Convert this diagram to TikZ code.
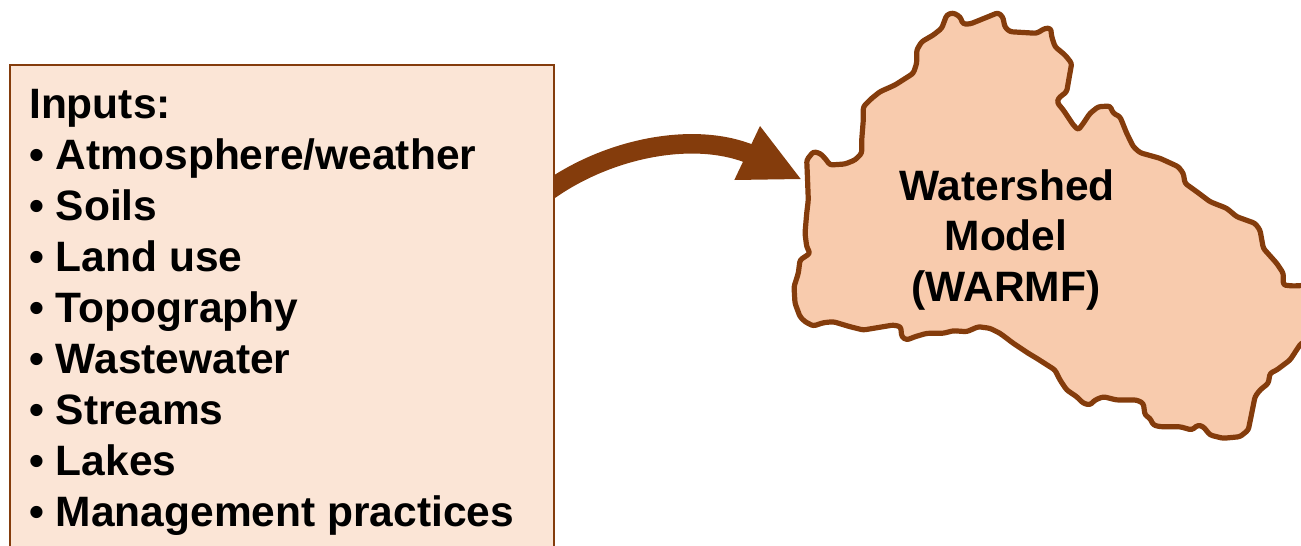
\documentclass[tikz,border=0pt]{standalone}
\usepackage{fontspec}
\setmainfont{Liberation Sans}
\definecolor{brn}{HTML}{843C0C}
\definecolor{boxfill}{HTML}{FBE5D6}
\definecolor{shedfill}{HTML}{F8CBAD}
\begin{document}
\begin{tikzpicture}[x=1pt,y=-1pt,
  inputtext/.style={anchor=base west, inner sep=0pt, font=\fontsize{42.5}{50}\selectfont\bfseries},
  wstext/.style={anchor=base, inner sep=0pt, font=\fontsize{42.5}{50}\selectfont\bfseries},
  inbox/.style={draw=brn, fill=boxfill, line width=1.5pt, inner sep=0pt},
  shed/.style={draw=brn, fill=shedfill, line width=5.2pt, line join=round, rounded corners=2.5pt},
  bodyline/.style={draw=brn, line width=19.5pt},
  headfill/.style={fill=brn}]
\useasboundingbox (0,0) rectangle (1301,546);
\clip (0,0) rectangle (1301,546);
% arrow body
\coordinate (astart) at (540,197);
\coordinate (aend) at (750,154);
\draw[bodyline] (astart) .. controls (600,150) and (690,130) .. (aend);
% input box
\node[inbox, minimum width=544pt, minimum height=500pt] (box) at (282,315) {};
% arrow head
\coordinate (headA) at (760,126);
\coordinate (tip) at (800.7,179);
\coordinate (headB) at (734.3,180);
\fill[headfill] (headA) -- (tip) -- (headB) -- cycle;
% watershed
\draw[shed] (946.7,15) -- (953,12.7) -- (960,16.7) -- (963,24) -- (970,24) -- (980,20)
 -- (998,12.7) -- (1002.7,16.7) -- (1005,27.3) -- (1010,31.7) -- (1036.7,33.3)
 -- (1045,28.3) -- (1050.7,28.3) -- (1051.7,36.7) -- (1055,46.7) -- (1065,55)
 -- (1071.7,63.3) -- (1069.3,76.7) -- (1066.7,91.7) -- (1058.3,98.3) -- (1057.3,102.7)
 -- (1063.3,110) -- (1073.3,125) -- (1078.3,130) -- (1083.3,123.3) -- (1090,113.3)
 -- (1098.3,106.7) -- (1110,106) -- (1113.3,113.3) -- (1120,116.7) -- (1126.7,133.3)
 -- (1133.3,146.7) -- (1140,152.7) -- (1160,158.3) -- (1178.3,166.7) -- (1183.3,173.3)
 -- (1185,183.3) -- (1196.7,191.7) -- (1210,201.7) -- (1226.7,208.3) -- (1236.7,216.7)
 -- (1255,223.3) -- (1260,230) -- (1263.3,248.3) -- (1276.7,263.3) -- (1283.3,273.3)
 -- (1283.3,285) -- (1293,286) -- (1312,285) -- (1312,340) -- (1301,343.3)
 -- (1290,360) -- (1276.7,370) -- (1270,373.3) -- (1268.3,383.3) -- (1260,390)
 -- (1255,396.7) -- (1251.7,413.3) -- (1248.3,430) -- (1240,436.7) -- (1223,438.3)
 -- (1210,435) -- (1203.3,426.7) -- (1198,425) -- (1191.7,430) -- (1180,426.7)
 -- (1171.7,426.7) -- (1160,426.7) -- (1153.3,425) -- (1150,418.3) -- (1145,415)
 -- (1143.3,403.3) -- (1136.7,400) -- (1116.7,400) -- (1103.3,396.7) -- (1095,400)
 -- (1090,405) -- (1083.3,403.3) -- (1076.7,396.7) -- (1066.7,390) -- (1060,380)
 -- (1055,370) -- (1036.7,358.3) -- (1028.3,353.3) -- (1013.3,343.3) -- (1000,333.3)
 -- (990,328.3) -- (978.3,326.7) -- (966.7,331.7) -- (953.3,330.7) -- (943.3,333.3)
 -- (926.7,333.3) -- (915,336.7) -- (906.7,340) -- (901.7,336.7) -- (900.7,326.7)
 -- (893.3,325) -- (863.3,330) -- (850,326.7) -- (833.3,321.7) -- (823.3,322.7)
 -- (813.3,326) -- (805,321.7) -- (800,316.7) -- (795,303.3) -- (794,286.7)
 -- (798.3,273.3) -- (800,260) -- (810,253.3) -- (806.7,246.7) -- (805,233.3)
 -- (806.7,213.3) -- (808.3,200) -- (807.3,173.3) -- (806.7,160) -- (813.3,151.7)
 -- (820,153.3) -- (825,158.3) -- (830,165) -- (845,164) -- (855,160)
 -- (861.7,153.3) -- (861.7,140) -- (863.3,120) -- (863.3,106.7) -- (871.7,98.3)
 -- (880,91.7) -- (895,85) -- (913.3,73.3) -- (916.7,63.3) -- (916.7,50)
 -- (921.7,41.7) -- (933.3,35) -- (941.7,28.3) -- cycle;
% texts
\node[wstext] (ws1) at (1007,200) {Watershed};
\node[wstext] (ws2) at (1006,250.8) {Model};
\node[wstext] (ws3) at (1006,301.6) {(WARMF)};
\node[inputtext] (in0) at (29,118) {Inputs:};
\node[inputtext] (in1) at (29,169.1) {• Atmosphere/weather};
\node[inputtext] (in2) at (29,220.2) {• Soils};
\node[inputtext] (in3) at (29,271.3) {• Land use};
\node[inputtext] (in4) at (29,322.4) {• Topography};
\node[inputtext] (in5) at (29,373.5) {• Wastewater};
\node[inputtext] (in6) at (29,424.6) {• Streams};
\node[inputtext] (in7) at (29,475.7) {• Lakes};
\node[inputtext] (in8) at (29,526.8) {• Management practices};
\end{tikzpicture}
\end{document}
